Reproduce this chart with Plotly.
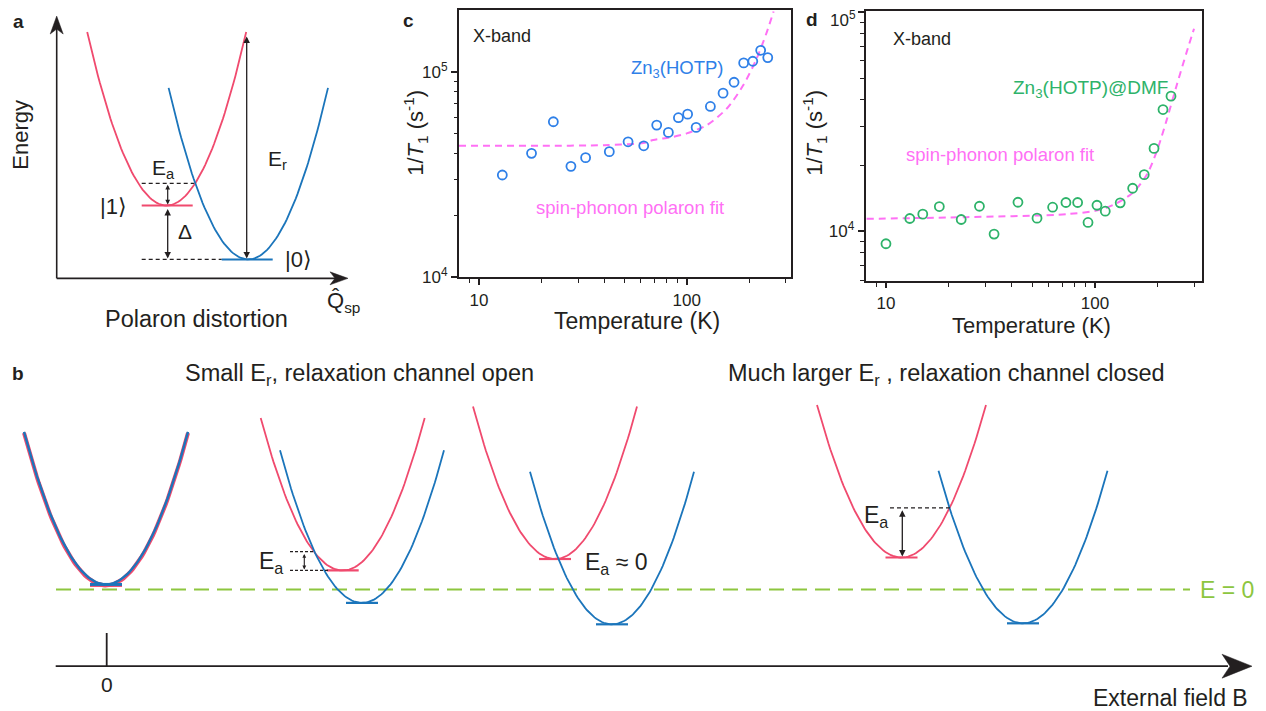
import numpy as np
import plotly.graph_objects as go

# ---------------- data: panel c (Zn3(HOTP)) ----------------
T_c = [12.95, 17.9, 22.8, 27.7, 32.6, 42.4, 52.2, 62.1, 71.7, 81.6, 91.2, 101, 111, 130, 149.6, 169, 188, 208, 227, 245.5]
R_c = [31500, 40150, 57200, 34700, 38240, 40900, 45700, 43700, 55100, 50750, 59850, 62300, 53700, 67900, 78800, 89100,
       110600, 112700, 127400, 117400]
fitT_c = [8, 20, 40, 62, 69, 85, 100, 125, 156, 187, 217, 243, 262]
fitR_c = [43700, 43700, 44000, 45100, 46600, 48200, 50200, 55100, 66400, 86100, 116000, 156300, 197000]

# ---------------- data: panel d (Zn3(HOTP)@DMF) ----------------
T_d = [10, 13.0, 15.0, 18.0, 22.9, 28.0, 32.9, 42.8, 52.8, 62.7, 72.6, 82.6, 92.6, 102.2, 112, 132, 151.4, 172, 191.6,
       211.5, 231]
R_d = [8790, 11460, 11990, 12990, 11340, 13030, 9725, 13590, 11500, 12900, 13550, 13550, 10990, 13170, 12370, 13500,
       15740, 18150, 23920, 35960, 41370]
fitT_d = [8.08, 24.3, 73.2, 105.7, 127, 152.6, 176.6, 197.2, 220.2, 246, 274.6, 297.7]
fitR_d = [11420, 11620, 11990, 12550, 13450, 15100, 18090, 23100, 32180, 46420, 65770, 83950]

# ---------------- schematic parameters (canvas units) ----------------
a_vertex_x = [166.7, 248.3]          # red |1>, blue |0>
a_vertex_y = [204, 258]
a_halfwidth = [79.5, 79.7]
a_height = [174, 172]

b_red_x = [106, 342.7, 555, 901.5]
b_red_y = [585, 570, 558.5, 557]
b_blue_x = [106, 362, 612, 1023]
b_blue_y = [584, 602.5, 624, 623]
b_halfwidth = [82, 82, 82, 84.5]
b_height = 153
b_level_hw = 16
b_zero_level = 589

RED = "#f04a6e"
BLUE = "#1b75bb"
GREEN = "#8dc63f"
DARK = "#231f20"
MAG = "#ff70f5"
CBLUE = "#2f80e8"
DGREEN = "#2eb36a"
FONT = "Liberation Sans, Arial, sans-serif"

W, H = 1266, 711
OX, OY = 8, 8     # page body margin compensation
SY = 0.986        # observed vertical scale of the photographed page


def px_x(v):       # canvas x -> figure pixel
    return v - OX


def px_y(v):       # canvas y -> figure pixel
    return v / SY - OY


fig = go.Figure()


def parabola(x0, y0, hw, h, n=90):
    xs = np.linspace(x0 - hw, x0 + hw, n)
    ys = y0 - h * ((xs - x0) / hw) ** 2
    return xs, ys


def line(xs, ys, color, width=1.8, dash=None):
    fig.add_trace(go.Scatter(x=xs, y=ys, mode="lines", xaxis="x", yaxis="y",
                             line=dict(color=color, width=width, dash=dash),
                             hoverinfo="skip", showlegend=False))


def arrowhead_poly(tipx, tipy, direction, length, halfw, notch, color=DARK):
    if direction == "right":
        xs = [tipx, tipx - length, tipx - length + notch, tipx - length, tipx]
        ys = [tipy, tipy - halfw, tipy, tipy + halfw, tipy]
    else:
        xs = [tipx, tipx - halfw, tipx, tipx + halfw, tipx]
        ys = [tipy, tipy + length, tipy + length - notch, tipy + length, tipy]
    fig.add_trace(go.Scatter(x=xs, y=ys, mode="lines", fill="toself", fillcolor=color,
                             line=dict(color=color, width=0.5), xaxis="x", yaxis="y",
                             hoverinfo="skip", showlegend=False))


annotations = []


def text(x, y, s, size=18, color=DARK, xanchor="center", yanchor="middle", angle=0, bold=False):
    annotations.append(dict(x=x, y=y, xref="x", yref="y", text=("<b>%s</b>" % s) if bold else s,
                            showarrow=False, xanchor=xanchor, yanchor=yanchor, textangle=angle,
                            font=dict(size=size, color=color, family=FONT)))


def darrow(x, y1, y2, width=1.3, size=1.0, double=True):
    annotations.append(dict(x=x, y=y2, ax=x, ay=y1, xref="x", yref="y", axref="x", ayref="y",
                            text="", showarrow=True, arrowhead=2, arrowsize=size, arrowwidth=width,
                            arrowcolor=DARK, arrowside="end+start" if double else "end",
                            standoff=0, startstandoff=0))


# ================= panel a =================
line([56.7, 56.7], [277, 25], DARK, 1.6)
line([56.7, 338], [277, 277], DARK, 1.6)
arrowhead_poly(56.7, 14, "up", 18, 6.5, 5)
arrowhead_poly(348, 277, "right", 18, 6.5, 5)

cross_y = 181.7
line([141.7, 221.7], [a_vertex_y[1], a_vertex_y[1]], DARK, 1.3, "4px,3px")
line([141.7, 194], [cross_y, cross_y], DARK, 1.3, "4px,3px")
line([a_vertex_x[0] - 25, a_vertex_x[0] + 26], [a_vertex_y[0], a_vertex_y[0]], RED, 2)
line([a_vertex_x[1] - 26.6, a_vertex_x[1] + 24.4], [a_vertex_y[1], a_vertex_y[1]], BLUE, 2)

xs, ys = parabola(a_vertex_x[0], a_vertex_y[0], a_halfwidth[0], a_height[0])
line(xs, ys, RED, 1.8)
xs, ys = parabola(a_vertex_x[1], a_vertex_y[1], a_halfwidth[1], a_height[1])
line(xs, ys, BLUE, 1.8)

darrow(167.7, cross_y, a_vertex_y[0] - 1, width=1.2, size=0.8)
darrow(167.7, a_vertex_y[0] + 2, a_vertex_y[1] - 1, width=1.3)
darrow(246.7, 33, a_vertex_y[1] - 1, width=1.3)

text(18, 19, "a", 19, bold=True)
text(21, 133, "Energy", 22, angle=-90)
text(196, 318, "Polaron distortion", 23.5)
text(343, 301, "Q\u0302<sub>sp</sub>", 22, xanchor="center")
text(163, 167, "E<sub>a</sub>", 21)
text(113, 205, "|1\u27e9", 22)
text(184.5, 230, "\u0394", 21)
text(277, 158, "E<sub>r</sub>", 21)
text(298, 258, "|0\u27e9", 22)

# ================= panel b =================
line([56, 1190], [b_zero_level, b_zero_level], GREEN, 2, "15px,8px")
text(1227, 590, "E = 0", 23, color=GREEN)

line([55.7, 1228], [666, 666], DARK, 1.8)
arrowhead_poly(1252, 666, "right", 30, 12, 8)
line([106.7, 106.7], [632.7, 666], DARK, 1.8)
text(106.7, 684, "0", 21)
text(1250, 698, "External field B", 23, xanchor="right")

for i in range(4):
    hw = b_halfwidth[i]
    xs, ys = parabola(b_red_x[i], b_red_y[i], hw, b_height)
    line(xs, ys, RED, 4 if i == 0 else 1.8)
    line([b_red_x[i] - b_level_hw, b_red_x[i] + b_level_hw], [b_red_y[i], b_red_y[i]], RED, 3 if i == 0 else 2.2)
for i in range(4):
    hw = b_halfwidth[i]
    xs, ys = parabola(b_blue_x[i], b_blue_y[i], hw, b_height)
    line(xs, ys, BLUE, 2.4 if i == 0 else 1.8)
    line([b_blue_x[i] - b_level_hw, b_blue_x[i] + b_level_hw], [b_blue_y[i], b_blue_y[i]], BLUE, 3 if i == 0 else 2.2)

line([290, 313], [551, 551], DARK, 1.2, "3px,2px")
line([290, 328], [b_red_y[1], b_red_y[1]], DARK, 1.2, "3px,2px")
darrow(304.3, 552, b_red_y[1] - 1, width=1.1, size=0.7)
text(271, 562, "E<sub>a</sub>", 23)
text(583, 563, "E<sub>a</sub> \u2248 0", 23, xanchor="left")
line([890, 950], [507.3, 507.3], DARK, 1.3, "4px,3px")
darrow(902.3, 508, b_red_y[3] - 1, width=1.3)
text(876, 516, "E<sub>a</sub>", 23)

text(18, 372, "b", 19, bold=True)
text(359, 373, "Small E<sub>r</sub>, relaxation channel open", 23.5)
text(946, 373, "Much larger E<sub>r</sub> , relaxation channel closed", 23.5)

# ================= panel c =================
fig.add_trace(go.Scatter(x=fitT_c, y=fitR_c, mode="lines", xaxis="x2", yaxis="y2",
                         line=dict(color=MAG, width=2, dash="7px,5px", shape="spline", smoothing=0.8),
                         hoverinfo="skip", showlegend=False))
fig.add_trace(go.Scatter(x=T_c, y=R_c, mode="markers", xaxis="x2", yaxis="y2",
                         marker=dict(symbol="circle-open", size=9, color=CBLUE, line=dict(width=1.8, color=CBLUE)),
                         showlegend=False))
text(408, 18, "c", 19, bold=True)
text(471, 34, "X-band", 18, xanchor="left")
text(677, 67, "Zn<sub>3</sub>(HOTP)", 18.5, color=CBLUE)
text(630, 206, "spin-phonon polaron fit", 18.5, color=MAG)
text(416, 131, "1/<i>T</i><sub>1</sub> (s<sup>-1</sup>)", 22, angle=-90)
text(637, 320, "Temperature (K)", 23)

# ================= panel d =================
fig.add_trace(go.Scatter(x=fitT_d, y=fitR_d, mode="lines", xaxis="x3", yaxis="y3",
                         line=dict(color=MAG, width=2, dash="7px,5px", shape="spline", smoothing=0.8),
                         hoverinfo="skip", showlegend=False))
fig.add_trace(go.Scatter(x=T_d, y=R_d, mode="markers", xaxis="x3", yaxis="y3",
                         marker=dict(symbol="circle-open", size=9, color=DGREEN, line=dict(width=1.8, color=DGREEN)),
                         showlegend=False))
text(812, 17, "d", 19, bold=True)
text(858, 17, "10<sup>5</sup>", 17, xanchor="right")   # top tick label of panel d (sits at the div edge)
text(891, 37, "X-band", 18, xanchor="left")
text(1090, 87, "Zn<sub>3</sub>(HOTP)@DMF", 19, color=DGREEN)
text(1000, 153, "spin-phonon polaron fit", 18.5, color=MAG)
text(815, 131, "1/<i>T</i><sub>1</sub> (s<sup>-1</sup>)", 22, angle=-90)
text(1031, 324, "Temperature (K)", 22)


def logx(vx0, vx1, rng, ticklen=6):
    return dict(type="log", domain=[px_x(vx0) / W, px_x(vx1) / W], range=rng,
                showline=True, linecolor=DARK, linewidth=2, mirror=True,
                ticks="outside", ticklen=ticklen, tickwidth=1.5, tickcolor=DARK,
                tickvals=[10, 100], ticktext=["10", "100"],
                tickfont=dict(size=17, color=DARK, family=FONT),
                minor=dict(ticks="outside", ticklen=3.5, tickwidth=1.2, tickcolor=DARK,
                           tickvals=[9, 20, 30, 40, 50, 60, 70, 80, 90, 200, 300]),
                showgrid=False, zeroline=False, fixedrange=True)


def logy(vy0, vy1, logbottom, decade_px, minor_vals, labels):
    top = max(vy0, OY * SY + 0.2)
    rng = [logbottom, logbottom + (vy1 - top) / decade_px]
    return dict(type="log", domain=[1 - px_y(vy1) / H, 1 - px_y(top) / H], range=rng,
                showline=True, linecolor=DARK, linewidth=2, mirror=True,
                ticks="outside", ticklen=6, tickwidth=1.5, tickcolor=DARK,
                tickvals=[1e4, 1e5], ticktext=labels,
                tickfont=dict(size=17, color=DARK, family=FONT),
                minor=dict(ticks="outside", ticklen=3.5, tickwidth=1.2, tickcolor=DARK, tickvals=minor_vals),
                showgrid=False, zeroline=False, fixedrange=True)


fig.update_layout(
    width=W, height=H, margin=dict(l=0, r=0, t=0, b=0),
    paper_bgcolor="white", plot_bgcolor="rgba(0,0,0,0)",
    font=dict(family=FONT, color=DARK),
    xaxis=dict(domain=[0, 1], range=[OX, W + OX], visible=False, fixedrange=True),
    yaxis=dict(domain=[0, 1], range=[(H + OY) * SY, OY * SY], visible=False, fixedrange=True),
    xaxis2=dict(logx(459, 791, [0.9037, 2.502]), anchor="y2"),
    yaxis2=dict(logy(7, 276, 4.0, 206,
                     [2e4, 3e4, 4e4, 5e4, 6e4, 7e4, 8e4, 9e4, 2e5],
                     ["10<sup>4</sup>", "10<sup>5</sup>"]), anchor="x2"),
    xaxis3=dict(logx(865.7, 1201.7, [0.903, 2.5105], ticklen=5), anchor="y3"),
    yaxis3=dict(logy(9.3, 280, 3.7727, 220,
                     [6e3, 7e3, 8e3, 9e3, 2e4, 3e4, 4e4, 5e4, 6e4, 7e4, 8e4, 9e4],
                     ["10<sup>4</sup>", ""]), anchor="x3"),
    annotations=annotations,
    showlegend=False,
)

fig.write_html("out.html")
